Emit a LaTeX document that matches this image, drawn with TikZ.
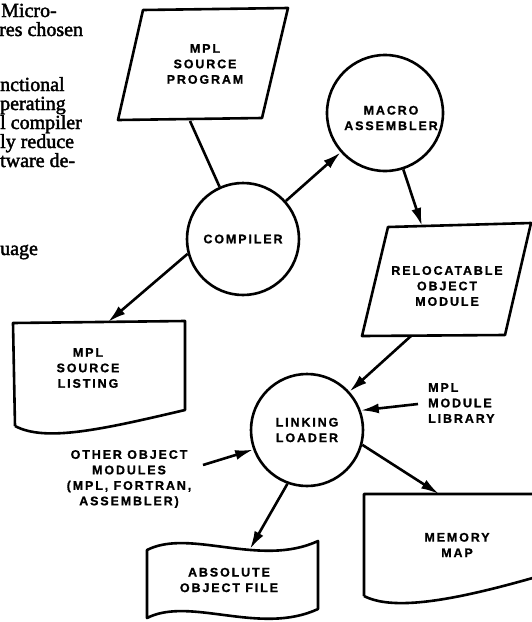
\documentclass[tikz,border=0pt]{standalone}
\usepackage{fontspec}
\setmainfont{Liberation Serif}
\newfontfamily\bodyfont[BoldFont={Liberation Serif},BoldFeatures={FakeBold=2}]{Liberation Serif}
\newfontfamily\dfont[LetterSpace=15,BoldFeatures={FakeBold=1}]{Liberation Sans}
\usetikzlibrary{arrows.meta}
\begin{document}
\begin{tikzpicture}[x=1pt,y=-1pt,
  shp/.style={line width=2.6pt, line join=round},
  conn/.style={line width=2.6pt},
  arr/.style={conn, -{Latex[length=18pt,width=10pt]}},
  lbl/.style={font=\dfont\bfseries\fontsize{12.5}{15.5}\selectfont, align=center, inner sep=0pt},
  body/.style={font=\bodyfont\bfseries\fontsize{20}{19}\selectfont, anchor=base west, inner sep=0pt},
  proc/.style={circle, draw, line width=2.6pt, inner sep=0pt, lbl}]
\path[use as bounding box, clip] (0,0) rectangle (532,622);
% body text (cut-off page column)
\node[body] (t1) at (1,17) {Micro-};
\node[body] (t2) at (-1,36) {res chosen};
\node[body] (t3) at (0,91) {nctional};
\node[body] (t4) at (0,110) {perating};
\node[body] (t5) at (0,129) {l compiler};
\node[body] (t6) at (0,148) {ly reduce};
\node[body] (t7) at (0,167) {tware de-};
\node[body] (t8) at (0,255) {uage};
% MPL source program
\draw[shp] (143,10) -- (288,8) -- (262,118) -- (118,120) -- cycle;
\node[lbl] (src) at (205,64) {MPL\\SOURCE\\PROGRAM};
% circles
\node[proc, minimum size=112pt] (comp) at (243,239) {COMPILER};
\node[proc, minimum size=116pt] (macro) at (385,113) {};
\node[lbl] (macrotxt) at (391,118) {MACRO\\ASSEMBLER};
\node[proc, minimum size=112pt] (link) at (307,430) {LINKING\\LOADER};
% relocatable object module
\draw[shp] (388,227) -- (531,223) -- (505,335) -- (362,336) -- cycle;
\node[lbl] (reloc) at (447,286) {RELOCATABLE\\OBJECT\\MODULE};
% source listing
\draw[shp] (15,426) -- (13,323) -- (185,321) -- (185,410)
  .. controls (100,430) and (45,442) .. (15,426);
\node[lbl] (lst) at (88,368) {MPL\\SOURCE\\LISTING};
% memory map
\draw[shp] (364,596) -- (364,494) -- (560,494) -- (560,570)
  .. controls (460,600) and (395,612) .. (364,596);
\node[lbl] (mem) at (457,545) {MEMORY\\MAP};
% absolute object file (tape)
\draw[shp] (147,550) .. controls (190,528) and (260,568) .. (318,541)
  -- (318,609) .. controls (260,636) and (190,596) .. (147,618) -- cycle;
\node[lbl] (abs) at (229,580) {ABSOLUTE\\OBJECT FILE};
% side labels
\node[lbl, anchor=west, align=left] (lib) at (428,403) {MPL\\MODULE\\LIBRARY};
\node[lbl] (oth) at (129,479) {OTHER OBJECT\\MODULES\\(MPL, FORTRAN,\\ASSEMBLER)};
% connectors
\coordinate (srcb) at (190,121);
\draw[conn] (srcb) -- (comp);
\draw[arr] (comp) -- (macro);
\coordinate (relt) at (422,226);
\draw[arr] (macro.-72) -- (relt);
\coordinate (relb) at (411,336);
\draw[arr] (relb) -- (link);
\coordinate (lstt) at (108,322);
\draw[arr] (comp.195) -- (lstt);
\coordinate (libs) at (418,404);
\draw[arr] (libs) -- (link.20);
\coordinate (oths) at (203,465);
\draw[arr] (oths) -- (link.200);
\coordinate (abst) at (250,549);
\draw[arr] (link.250) -- (abst);
\coordinate (memt) at (439,494);
\draw[arr] (link.-15) -- (memt);
\end{tikzpicture}
\end{document}
